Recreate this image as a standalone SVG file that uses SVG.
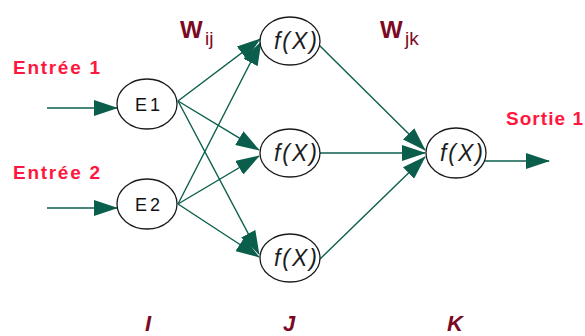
<svg xmlns="http://www.w3.org/2000/svg" width="585" height="336" viewBox="0 0 585 336">
  <style>
    .node ellipse { fill: #ffffff; stroke: #1a1a1a; stroke-width: 1.3; }
    .edge { stroke: #0b5e4c; stroke-width: 1.4; fill: none; marker-end: url(#head); }
    .in-label { font-family: "Liberation Sans", Arial, sans-serif; font-weight: bold; font-size: 19px; fill: #ff1740; }
    .e-text { font-family: "Liberation Sans", Arial, sans-serif; font-size: 18px; fill: #111; letter-spacing: 3px; }
    .f-text { font-family: "Liberation Sans", Arial, sans-serif; font-style: italic; font-size: 23px; fill: #1c1c1c; }
    .w-main { font-family: "Liberation Sans", Arial, sans-serif; font-weight: bold; font-size: 24px; fill: #7a0a24; }
    .w-sub { font-family: "Liberation Sans", Arial, sans-serif; font-size: 19px; fill: #7a0a24; }
    .layer { font-family: "Liberation Sans", Arial, sans-serif; font-weight: bold; font-style: italic; font-size: 22px; fill: #7a0a24; }
  </style>
  <defs>
    <marker id="head" viewBox="0 0 24 16" refX="23" refY="8" markerWidth="24" markerHeight="16" markerUnits="userSpaceOnUse" orient="auto">
      <path d="M0,0 L24,8 L0,16 Z" fill="#0b5e4c"/>
    </marker>
  </defs>
  <rect width="585" height="336" fill="#ffffff"/>

  <!-- connectors -->
  <g id="connectors">
    <line class="edge" x1="47" y1="108" x2="117" y2="108"/>
    <line class="edge" x1="47" y1="208" x2="117" y2="208"/>
    <line class="edge" x1="178" y1="101" x2="260" y2="39"/>
    <line class="edge" x1="178" y1="101" x2="259" y2="150"/>
    <line class="edge" x1="178" y1="101" x2="259" y2="254"/>
    <line class="edge" x1="178" y1="204" x2="261" y2="42"/>
    <line class="edge" x1="178" y1="204" x2="259" y2="156"/>
    <line class="edge" x1="178" y1="204" x2="259" y2="257"/>
    <line class="edge" x1="319" y1="45" x2="425" y2="150"/>
    <line class="edge" x1="320" y1="153" x2="425" y2="153"/>
    <line class="edge" x1="319" y1="260" x2="425" y2="157"/>
    <line class="edge" x1="485" y1="161" x2="549" y2="161"/>
  </g>

  <!-- input layer -->
  <g id="E1" class="node">
    <ellipse cx="147" cy="104" rx="30" ry="25"/>
    <text class="e-text" x="149" y="111" text-anchor="middle">E1</text>
  </g>
  <g id="E2" class="node">
    <ellipse cx="147" cy="204" rx="30" ry="25"/>
    <text class="e-text" x="149" y="211" text-anchor="middle">E2</text>
  </g>

  <!-- hidden layer -->
  <g id="J1" class="node">
    <ellipse cx="290" cy="41" rx="30" ry="24"/>
    <text class="f-text" x="274" y="49" textLength="43" lengthAdjust="spacing">f(X)</text>
  </g>
  <g id="J2" class="node">
    <ellipse cx="290" cy="153" rx="30" ry="24"/>
    <text class="f-text" x="274" y="161" textLength="43" lengthAdjust="spacing">f(X)</text>
  </g>
  <g id="J3" class="node">
    <ellipse cx="290" cy="258" rx="30" ry="24"/>
    <text class="f-text" x="274" y="266" textLength="43" lengthAdjust="spacing">f(X)</text>
  </g>

  <!-- output layer -->
  <g id="K1" class="node">
    <ellipse cx="456" cy="153" rx="30" ry="25"/>
    <text class="f-text" x="440" y="161" textLength="43" lengthAdjust="spacing">f(X)</text>
  </g>

  <!-- labels -->
  <text class="in-label" x="13" y="74" textLength="87" lengthAdjust="spacing">Entrée 1</text>
  <text class="in-label" x="13" y="179" textLength="87" lengthAdjust="spacing">Entrée 2</text>
  <text class="in-label" x="506" y="125" textLength="77" lengthAdjust="spacing">Sortie 1</text>

  <text class="w-main" x="180" y="38">W</text>
  <text class="w-sub" x="205" y="45">ij</text>
  <text class="w-main" x="380" y="38">W</text>
  <text class="w-sub" x="405" y="45">jk</text>

  <text class="layer" x="148" y="331" text-anchor="middle">I</text>
  <text class="layer" x="289" y="331" text-anchor="middle">J</text>
  <text class="layer" x="455" y="331" text-anchor="middle">K</text>
</svg>
